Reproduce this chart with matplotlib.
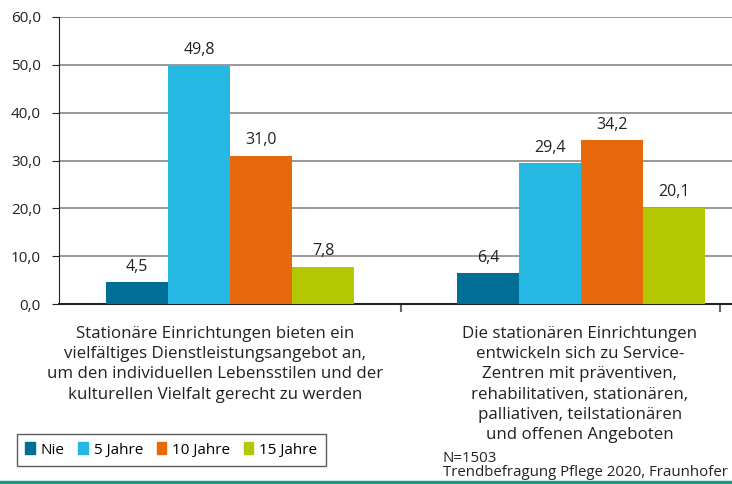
import numpy as np
import matplotlib
matplotlib.use("Agg")
import matplotlib.pyplot as plt
from matplotlib.patches import Patch

plt.rcParams['font.family'] = ['Open Sans', 'DejaVu Sans']

# data
categories = ["Stationäre Einrichtungen bieten ein\nvielfältiges Dienstleistungsangebot an,\num den individuellen Lebensstilen und der\nkulturellen Vielfalt gerecht zu werden",
              "Die stationären Einrichtungen\nentwickeln sich zu Service-\nZentren mit präventiven,\nrehabilitativen, stationären,\npalliativen, teilstationären\nund offenen Angeboten"]
series = ["Nie", "5 Jahre", "10 Jahre", "15 Jahre"]
nie = [4.5, 6.4]
jahre5 = [49.8, 29.4]
jahre10 = [31.0, 34.2]
jahre15 = [7.8, 20.1]
colors = ['#006E96', '#25B8E3', '#E8690C', '#B3C800']

W, H = 732, 484
fig = plt.figure(figsize=(W / 100, H / 100), dpi=100)
ax = fig.add_axes([59 / W, (H - 304) / H, (W - 59) / W, (304 - 17) / H])

x = np.arange(len(categories))
bw = 0.177
values = [nie, jahre5, jahre10, jahre15]
for i, (vals, c, name) in enumerate(zip(values, colors, series)):
    pos = x + (i - 1.5) * bw
    ax.bar(pos, vals, width=bw, color=c, label=name, zorder=3)
    for p, v in zip(pos, vals):
        ax.text(p, v + 1.6, f"{v:.1f}".replace('.', ','), ha='center', va='bottom',
                fontsize=11.5, color='#222222')

ax.set_ylim(0, 60)
ax.set_xlim(-0.487, 1.43)
ax.set_yticks(range(0, 61, 10))
ax.set_yticklabels([f"{v},0" for v in range(0, 61, 10)], fontsize=11, color='#222222')
ax.yaxis.grid(True, color='#888888', linewidth=1.2, zorder=0)
ax.set_xticks([0.487, 1.396])
ax.set_xticklabels([])
ax.tick_params(axis='x', length=6, color='#666666', width=1.5)
ax.tick_params(axis='y', length=5, color='#222222', pad=8)
for s in ['top', 'right']:
    ax.spines[s].set_visible(False)
ax.spines['left'].set_color('#222222')
ax.spines['bottom'].set_color('#222222')
ax.spines['bottom'].set_linewidth(1.5)

for xc, lab in zip([215, 580], categories):
    fig.text(xc / W, 1 - 326 / H, lab, ha='center', va='top', fontsize=12.2,
             linespacing=1.35, color='#222222')

handles = [Patch(color=c) for c in colors]
leg = fig.legend(handles, series, loc='upper left', bbox_to_anchor=(17 / W, 1 - 434 / H),
                 ncol=4, fontsize=11, frameon=True, fancybox=False, handlelength=0.6,
                 handleheight=0.8, handletextpad=0.4, columnspacing=0.9,
                 borderpad=0.55, borderaxespad=0, edgecolor='#333333')
leg.get_frame().set_linewidth(1.0)

fig.text(443 / W, 1 - 459 / H, "N=1503", ha='left', va='center', fontsize=10.8, color='#222222')
fig.text(443 / W, 1 - 472.5 / H, "Trendbefragung Pflege 2020, Fraunhofer", ha='left', va='center',
         fontsize=10.8, color='#222222')

fig.add_artist(plt.Line2D([0, 1], [1 - 482 / H] * 2, color='#179C7D', linewidth=2.5))

fig.savefig('out.png', dpi=100)
